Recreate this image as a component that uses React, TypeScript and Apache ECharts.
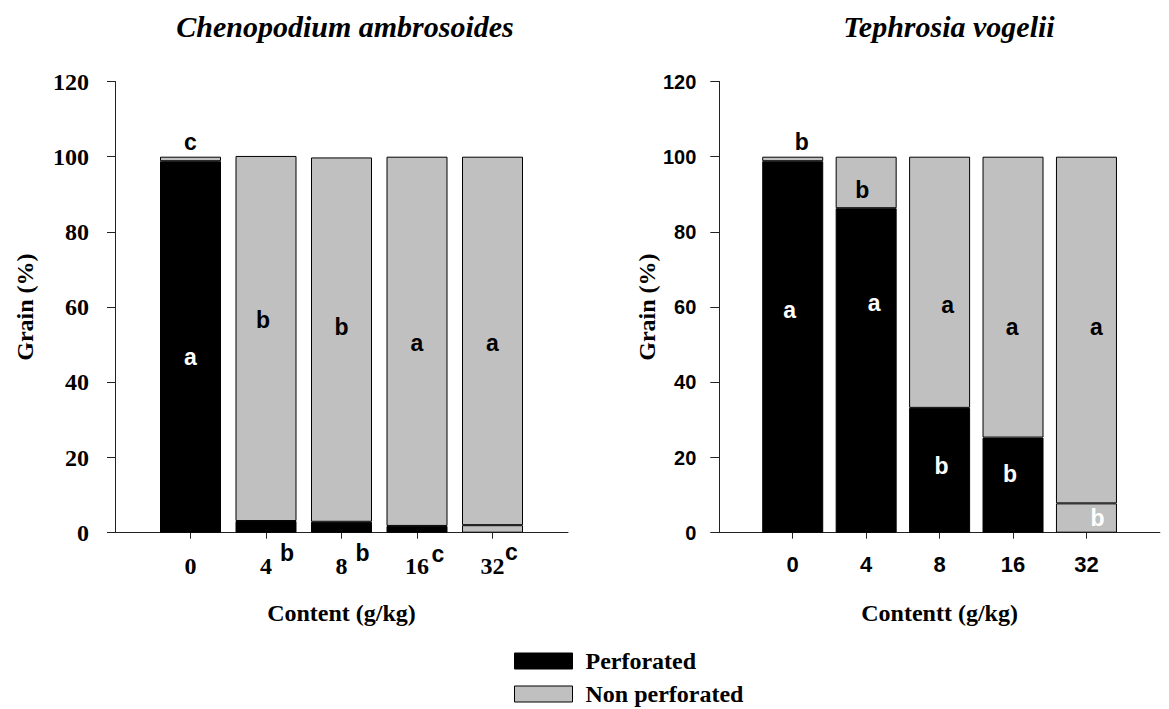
import React, { useEffect, useRef } from 'react';
import * as echarts from 'echarts';

// ---------- data ----------
const categories = ['0', '4', '8', '16', '32'];
const chenoPerforated = [98.8, 3.1, 2.9, 1.8, 2.0];
const chenoNonPerforated = [1.2, 97.1, 96.9, 98.2, 98.0];
const tephroPerforated = [98.8, 86.3, 33.2, 25.3, 7.8];
const tephroNonPerforated = [1.2, 13.7, 66.8, 74.7, 92.2];
const yMin = 0;
const yMax = 120;
const yStep = 20;
const legendNames = ['Perforated', 'Non perforated'];

// significance letters: [category, y value, letter, tone]
const chenoLetters: [string, number, string, string][] = [
  ['0', 104, 'c', 'dark'],
  ['0', 46.8, 'a', 'light'],
  ['4', 56.7, 'b', 'dark'],
  ['8', 54.8, 'b', 'dark'],
  ['16', 50.5, 'a', 'dark'],
  ['32', 50.5, 'a', 'dark'],
  ['4', -5.4, 'b', 'dark'],
  ['8', -5.4, 'b', 'dark'],
  ['16', -5.6, 'c', 'dark'],
  ['32', -5.2, 'c', 'dark'],
];
const tephroLetters: [string, number, string, string][] = [
  ['0', 104, 'b', 'dark'],
  ['4', 91.1, 'b', 'dark'],
  ['0', 59.2, 'a', 'light'],
  ['4', 61.0, 'a', 'light'],
  ['8', 60.6, 'a', 'dark'],
  ['16', 54.8, 'a', 'dark'],
  ['32', 54.8, 'a', 'dark'],
  ['8', 17.7, 'b', 'light'],
  ['16', 15.6, 'b', 'light'],
  ['32', 3.8, 'b', 'light'],
];

// ---------- styling / layout (not data) ----------
const chenoLetterNudge = [0, 0, -3, 0, 0, 0, 21, 21, 21, 19];
const tephroLetterNudge = [9, -4, -3, 8, 8, -1, 10, 2, -3, 11];
const greyPerforatedCats = ['32'];
const SERIF = 'Liberation Serif';
const SANS = 'Liberation Sans';
const BLACK = '#000000';
const GREY = '#c0c0c0';
const AXIS = '#222222';

const padded = [' ', ...categories, '  '];

function barData(vals: number[], greyCats: string[]) {
  return vals.map((v, i) =>
    greyCats.includes(categories[i]) ? { value: v, itemStyle: { color: GREY } } : v
  );
}

function letterData(list: [string, number, string, string][], nudge: number[]) {
  return list.map(([cat, y, txt, tone], i) => ({
    value: [cat, y],
    name: txt,
    label: {
      color: tone === 'light' ? '#ffffff' : '#000000',
      offset: [nudge[i], 0],
    },
  }));
}

function xAxisCfg(grid: number, name: string, fontFamily: string, fontSize: number) {
  return {
    gridIndex: grid,
    type: 'category',
    data: padded,
    boundaryGap: false,
    axisLine: { show: true, lineStyle: { color: AXIS, width: 1 } },
    axisTick: {
      show: true,
      length: 6,
      interval: (i: number) => i > 0 && i < padded.length - 1,
      lineStyle: { color: AXIS, width: 1 },
    },
    axisLabel: {
      interval: 0,
      margin: 21,
      color: '#000',
      fontSize,
      fontWeight: 'bold',
      fontFamily,
    },
    splitLine: { show: false },
    name,
    nameLocation: 'middle',
    nameGap: 68,
    nameTextStyle: { color: '#000', fontSize: 24, fontWeight: 'bold', fontFamily: SERIF },
  };
}

function yAxisCfg(grid: number, fontFamily: string, fontSize: number, margin: number, nameGap: number, tickLen: number) {
  return {
    gridIndex: grid,
    type: 'value',
    min: yMin,
    max: yMax,
    interval: yStep,
    axisLine: { show: true, lineStyle: { color: AXIS, width: 1 } },
    axisTick: { show: true, length: tickLen, lineStyle: { color: AXIS, width: 1 } },
    axisLabel: { margin, color: '#000', fontSize, fontWeight: 'bold', fontFamily },
    splitLine: { show: false },
    name: 'Grain (%)',
    nameLocation: 'middle',
    nameRotate: 90,
    nameGap,
    nameTextStyle: { color: '#000', fontSize: 24, fontWeight: 'bold', fontFamily: SERIF },
  };
}

function legendCfg(name: string, top: number) {
  return {
    data: [name],
    orient: 'vertical',
    left: 514,
    top,
    padding: 0,
    itemWidth: 58,
    itemHeight: 16,
    icon: 'rect',
    itemStyle: { borderColor: BLACK, borderWidth: 1 },
    textStyle: { fontSize: 24, fontWeight: 'bold', fontFamily: SERIF, color: '#000', padding: [0, 0, 0, 8] },
    selectedMode: false,
  };
}

export default function App() {
  const ref = useRef<HTMLDivElement>(null);
  useEffect(() => {
    if (!ref.current) return;
    const chart = echarts.init(ref.current, undefined, { renderer: 'svg' });
    const barCommon = {
      type: 'bar',
      barWidth: 61,
      itemStyle: { borderColor: BLACK, borderWidth: 1 },
    };
    const letterCommon = {
      type: 'scatter',
      symbolSize: 0,
      clip: false,
      silent: true,
      itemStyle: { opacity: 1 },
      label: {
        show: true,
        position: 'inside',
        formatter: (p: any) => p.name,
        fontSize: 23,
        fontWeight: 'bold',
        fontFamily: SANS,
        textBorderWidth: 0,
        textBorderColor: 'transparent',
        opacity: 1,
      },
    };
    chart.setOption({
      animation: false,
      backgroundColor: '#ffffff',
      title: [
        {
          text: 'Chenopodium ambrosoides',
          left: 340,
          top: 6,
          textAlign: 'center',
          textStyle: { fontSize: 30, fontStyle: 'italic', fontWeight: 'bold', fontFamily: SERIF, color: '#000' },
        },
        {
          text: 'Tephrosia vogelii',
          left: 944,
          top: 6,
          textAlign: 'center',
          textStyle: { fontSize: 30, fontStyle: 'italic', fontWeight: 'bold', fontFamily: SERIF, color: '#000' },
        },
      ],
      legend: [legendCfg(legendNames[0], 649), legendCfg(legendNames[1], 682)],
      grid: [
        { left: 115, top: 81.5, width: 453, height: 451.2, containLabel: false },
        { left: 719.3, top: 81.5, width: 452, height: 451.2, containLabel: false },
      ],
      xAxis: [
        xAxisCfg(0, 'Content (g/kg)', SERIF, 24),
        xAxisCfg(1, 'Contentt (g/kg)', SANS, 22),
      ],
      yAxis: [
        yAxisCfg(0, SERIF, 24, 26, 78, 8),
        yAxisCfg(1, SANS, 20, 23, 42, 9),
      ],
      series: [
        { ...barCommon, name: legendNames[0], stack: 'cheno', xAxisIndex: 0, yAxisIndex: 0, color: BLACK,
          data: [null, ...barData(chenoPerforated, greyPerforatedCats), null] },
        { ...barCommon, name: legendNames[1], stack: 'cheno', xAxisIndex: 0, yAxisIndex: 0, color: GREY,
          data: [null, ...barData(chenoNonPerforated, []), null] },
        { ...barCommon, name: legendNames[0], stack: 'tephro', xAxisIndex: 1, yAxisIndex: 1, color: BLACK,
          data: [null, ...barData(tephroPerforated, greyPerforatedCats), null] },
        { ...barCommon, name: legendNames[1], stack: 'tephro', xAxisIndex: 1, yAxisIndex: 1, color: GREY,
          data: [null, ...barData(tephroNonPerforated, []), null] },
        { ...letterCommon, name: 'lettersCheno', xAxisIndex: 0, yAxisIndex: 0,
          data: letterData(chenoLetters, chenoLetterNudge) },
        { ...letterCommon, name: 'lettersTephro', xAxisIndex: 1, yAxisIndex: 1,
          data: letterData(tephroLetters, tephroLetterNudge) },
      ],
    });
    return () => chart.dispose();
  }, []);
  return (
    <div
      ref={ref}
      style={{ position: 'fixed', left: 0, top: 0, width: 1169, height: 709, background: '#fff' }}
    />
  );
}
